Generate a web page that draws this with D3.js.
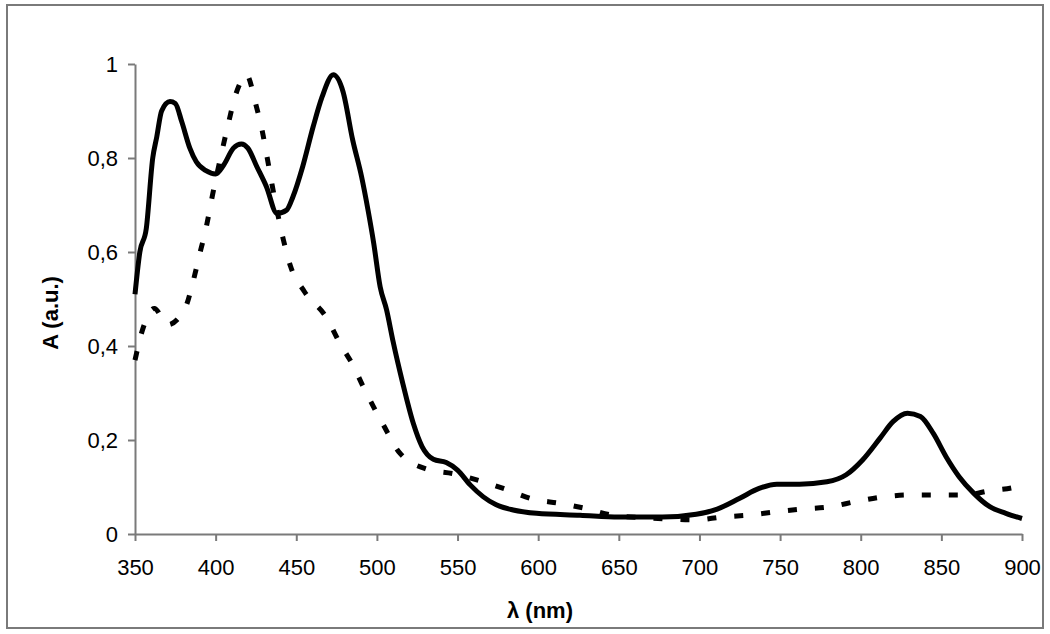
<!DOCTYPE html>
<html>
<head>
<meta charset="utf-8">
<script src="https://cdnjs.cloudflare.com/ajax/libs/d3/7.8.5/d3.min.js"></script>
<style>
	body { margin: 0; background: #fff; }
	text { font-family: Arial, 'Liberation Sans', sans-serif; }
</style>
</head>
<body>
<div id="draw"></div>
<script>
// spectra (wavelength in nm, absorbance in a.u.)
var solidNm = [350, 353, 357, 361, 363.5, 366.5, 371.7, 375, 379, 384, 388, 394, 400, 405, 411, 416, 420, 425.5, 431.5, 438,
	444, 448, 454, 460.5, 466, 473, 479, 485, 490.5, 494.5, 498, 502, 506, 510, 516, 522.5, 528, 535, 543, 550,
	558, 566, 574, 584.5, 599, 626, 650, 677, 698, 711, 725, 737, 748, 762, 779, 791, 801, 812, 820, 829,
	837, 845, 853, 861, 870, 880, 890, 900];
var solidA = [0.51, 0.6, 0.65, 0.8, 0.845, 0.9, 0.92, 0.916, 0.877, 0.821, 0.792, 0.773, 0.766, 0.785, 0.821, 0.83, 0.821, 0.782, 0.739, 0.682,
	0.689, 0.718, 0.782, 0.867, 0.93, 0.977, 0.941, 0.838, 0.76, 0.689, 0.619, 0.526, 0.477, 0.41, 0.321, 0.236, 0.186, 0.159, 0.152, 0.136,
	0.104, 0.079, 0.062, 0.051, 0.044, 0.04, 0.036, 0.036, 0.042, 0.053, 0.076, 0.097, 0.106, 0.106, 0.111, 0.126, 0.157, 0.204, 0.239, 0.257,
	0.25, 0.214, 0.164, 0.122, 0.087, 0.058, 0.044, 0.033];

var dashNm = [350, 355, 362, 370, 381, 386, 390, 394, 398, 403, 408, 412, 416, 419, 425, 429, 432, 435, 442, 446.5,
	455, 469, 477, 485, 492, 498, 504, 514, 531, 548, 564, 580, 597, 614, 631, 646, 670, 697, 714, 730,
	747, 763, 781, 797, 814, 830, 847, 864, 880, 897, 900];
var dashA = [0.37, 0.438, 0.48, 0.445, 0.48, 0.537, 0.594, 0.65, 0.72, 0.8, 0.875, 0.93, 0.965, 0.978, 0.913, 0.856, 0.8, 0.743, 0.626, 0.569,
	0.516, 0.459, 0.406, 0.36, 0.31, 0.27, 0.232, 0.173, 0.138, 0.128, 0.113, 0.095, 0.074, 0.065, 0.053, 0.04, 0.034, 0.03, 0.036, 0.04,
	0.047, 0.053, 0.058, 0.069, 0.079, 0.083, 0.083, 0.083, 0.092, 0.101, 0.105];

var xTicks = [350, 400, 450, 500, 550, 600, 650, 700, 750, 800, 850, 900];
var yTicks = [0, 0.2, 0.4, 0.6, 0.8, 1];

var W = 1050,
	H = 634;
var margin = { top: 64, right: 28, bottom: 100, left: 135 },
	width = W - margin.left - margin.right,
	height = H - margin.top - margin.bottom;

var root = d3.select('#draw').append('svg').attr('width', W).attr('height', H);

// outer frame
root
	.append('rect')
	.attr('x', 7)
	.attr('y', 5)
	.attr('width', 1036)
	.attr('height', 623)
	.style('fill', '#fff')
	.style('stroke', '#7a7a7a')
	.style('stroke-width', 2);

var svg = root.append('g').attr('transform', 'translate(' + margin.left + ',' + margin.top + ')');

var x = d3.scaleLinear().domain([350, 900]).range([0, width]);
var y = d3.scaleLinear().domain([0, 1]).range([height, 0]);

function fmt(d) {
	return String(d).replace('.', ',');
}

var xAxis = svg
	.append('g')
	.attr('transform', 'translate(0,' + height + ')')
	.call(d3.axisBottom(x).tickValues(xTicks).tickSize(7).tickSizeOuter(0).tickPadding(18).tickFormat(fmt));

var yAxis = svg
	.append('g')
	.call(d3.axisLeft(y).tickValues(yTicks).tickSize(7).tickSizeOuter(0).tickPadding(10).tickFormat(fmt));

[xAxis, yAxis].forEach(function (a) {
	a.select('.domain').style('stroke', '#7a7a7a').style('stroke-width', 2);
	a.selectAll('.tick line').style('stroke', '#7a7a7a').style('stroke-width', 2);
	a.selectAll('.tick text')
		.style('font-family', "Arial, 'Liberation Sans', sans-serif")
		.style('font-size', '22px')
		.style('fill', '#000');
});

var line = d3
	.line()
	.x(function (d) {
		return x(d[0]);
	})
	.y(function (d) {
		return y(d[1]);
	})
	.curve(d3.curveMonotoneX);

svg
	.append('path')
	.attr('d', line(d3.zip(dashNm, dashA)))
	.style('fill', 'none')
	.style('stroke', '#000')
	.style('stroke-width', 5)
	.style('stroke-dasharray', '9,18');

svg
	.append('path')
	.attr('d', line(d3.zip(solidNm, solidA)))
	.style('fill', 'none')
	.style('stroke', '#000')
	.style('stroke-width', 5)
	.style('stroke-linejoin', 'round');

// axis titles
root
	.append('text')
	.attr('x', 540)
	.attr('y', 618)
	.style('text-anchor', 'middle')
	.style('font-size', '22px')
	.style('font-weight', 'bold')
	.text('λ (nm)');

root
	.append('text')
	.attr('transform', 'translate(58,313) rotate(-90)')
	.style('text-anchor', 'middle')
	.style('font-size', '22px')
	.style('font-weight', 'bold')
	.text('A (a.u.)');
</script>
</body>
</html>
